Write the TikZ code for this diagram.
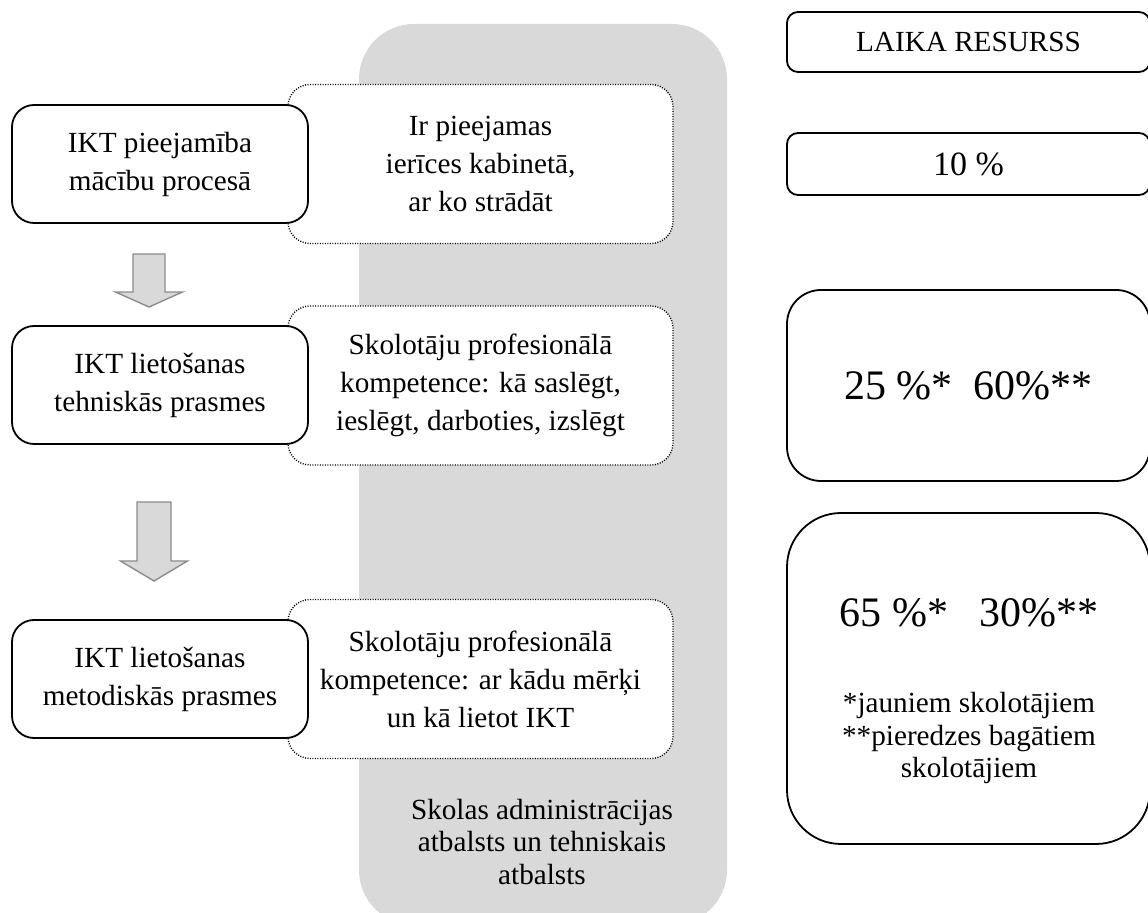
\documentclass[tikz,border=0pt]{standalone}
\usepackage{fontspec}
\setmainfont{Liberation Serif}

\definecolor{bggray}{HTML}{D9D9D9}
\definecolor{arrowline}{HTML}{8C8C8C}

\tikzset{
  skillbox/.style={draw, line width=0.9pt, fill=white, rounded corners=11pt,
    minimum width=148pt, minimum height=59pt, inner sep=0pt, align=center,
    font=\fontsize{14.6}{19}\selectfont},
  hintbox/.style={draw, line width=0.7pt, dash pattern=on 0.5pt off 0.75pt,
    fill=white, rounded corners=11pt, minimum width=192.5pt, minimum height=79.5pt,
    inner sep=0pt, align=center, font=\fontsize{14.6}{19}\selectfont},
  timebox/.style={draw, line width=0.9pt, minimum width=181.5pt, inner sep=0pt,
    align=center, font=\fontsize{14.6}{19}\selectfont},
  arrowstyle/.style={fill=bggray, draw=arrowline, line width=0.7pt}
}

% x, top, start of head, tip, half shaft
\newcommand{\grayarrow}[5]{
  \filldraw[arrowstyle] (#1-#5,#2) -- (#1+#5,#2) -- (#1+#5,#3) -- (#1+33.5,#3)
    -- (#1,#4) -- (#1-33.5,#3) -- (#1-#5,#3) -- cycle;
}

\begin{document}
\begin{tikzpicture}[x=0.5pt,y=-0.5pt]
\useasboundingbox (0,0) rectangle (1148,913);

% support column
\fill[bggray, rounded corners=27.5pt] (359,24) rectangle (727,925);
\node[align=center, font=\fontsize{14.6}{16.25}\selectfont] (support) at (542,842)
  {Skolas administrācijas\\atbalsts un tehniskais\\atbalsts};

% competences
\node[hintbox] (hintA) at (480.5,164) {Ir pieejamas\\ierīces kabinetā,\\ar ko strādāt};
\node[hintbox] (hintB) at (480.5,385.5) {Skolotāju profesionālā\\kompetence: kā saslēgt,\\ieslēgt, darboties, izslēgt};
\node[hintbox] (hintC) at (480.5,679) {Skolotāju profesionālā\\kompetence: ar kādu mērķi\\un kā lietot IKT};

% skills
\node[skillbox] (skillA) at (160,164) {IKT pieejamība\\mācību procesā};
\node[skillbox] (skillB) at (160,385) {IKT lietošanas\\tehniskās prasmes};
\node[skillbox] (skillC) at (160,679) {IKT lietošanas\\metodiskās prasmes};

\grayarrow{149}{254}{292}{307}{16}
\grayarrow{154}{502}{561}{581}{17}

% time resource
\node[timebox, minimum height=30pt, rounded corners=5.5pt] (timeHead) at (968.5,42) {LAIKA RESURSS};
\node[timebox, minimum height=31pt, rounded corners=5.5pt,
  font=\fontsize{17}{20}\selectfont] (timeA) at (968.5,164) {10 \%};
\node[timebox, minimum height=95.5pt, rounded corners=17pt,
  font=\fontsize{21}{25}\selectfont] (timeB) at (968.5,385.5) {25 \%*\ \ 60\%**};
\node[timebox, minimum height=165.5pt, rounded corners=27pt] (timeC) at (968.5,678.5) {};
\node[anchor=base, font=\fontsize{21}{25}\selectfont] (timeCpct) at (969,627) {65 \%*\ \ \ 30\%**};
\node[align=center, font=\fontsize{14.6}{16.25}\selectfont] (timeCnote) at (969,738)
  {*jauniem skolotājiem\\**pieredzes bagātiem\\skolotājiem};
\end{tikzpicture}
\end{document}
